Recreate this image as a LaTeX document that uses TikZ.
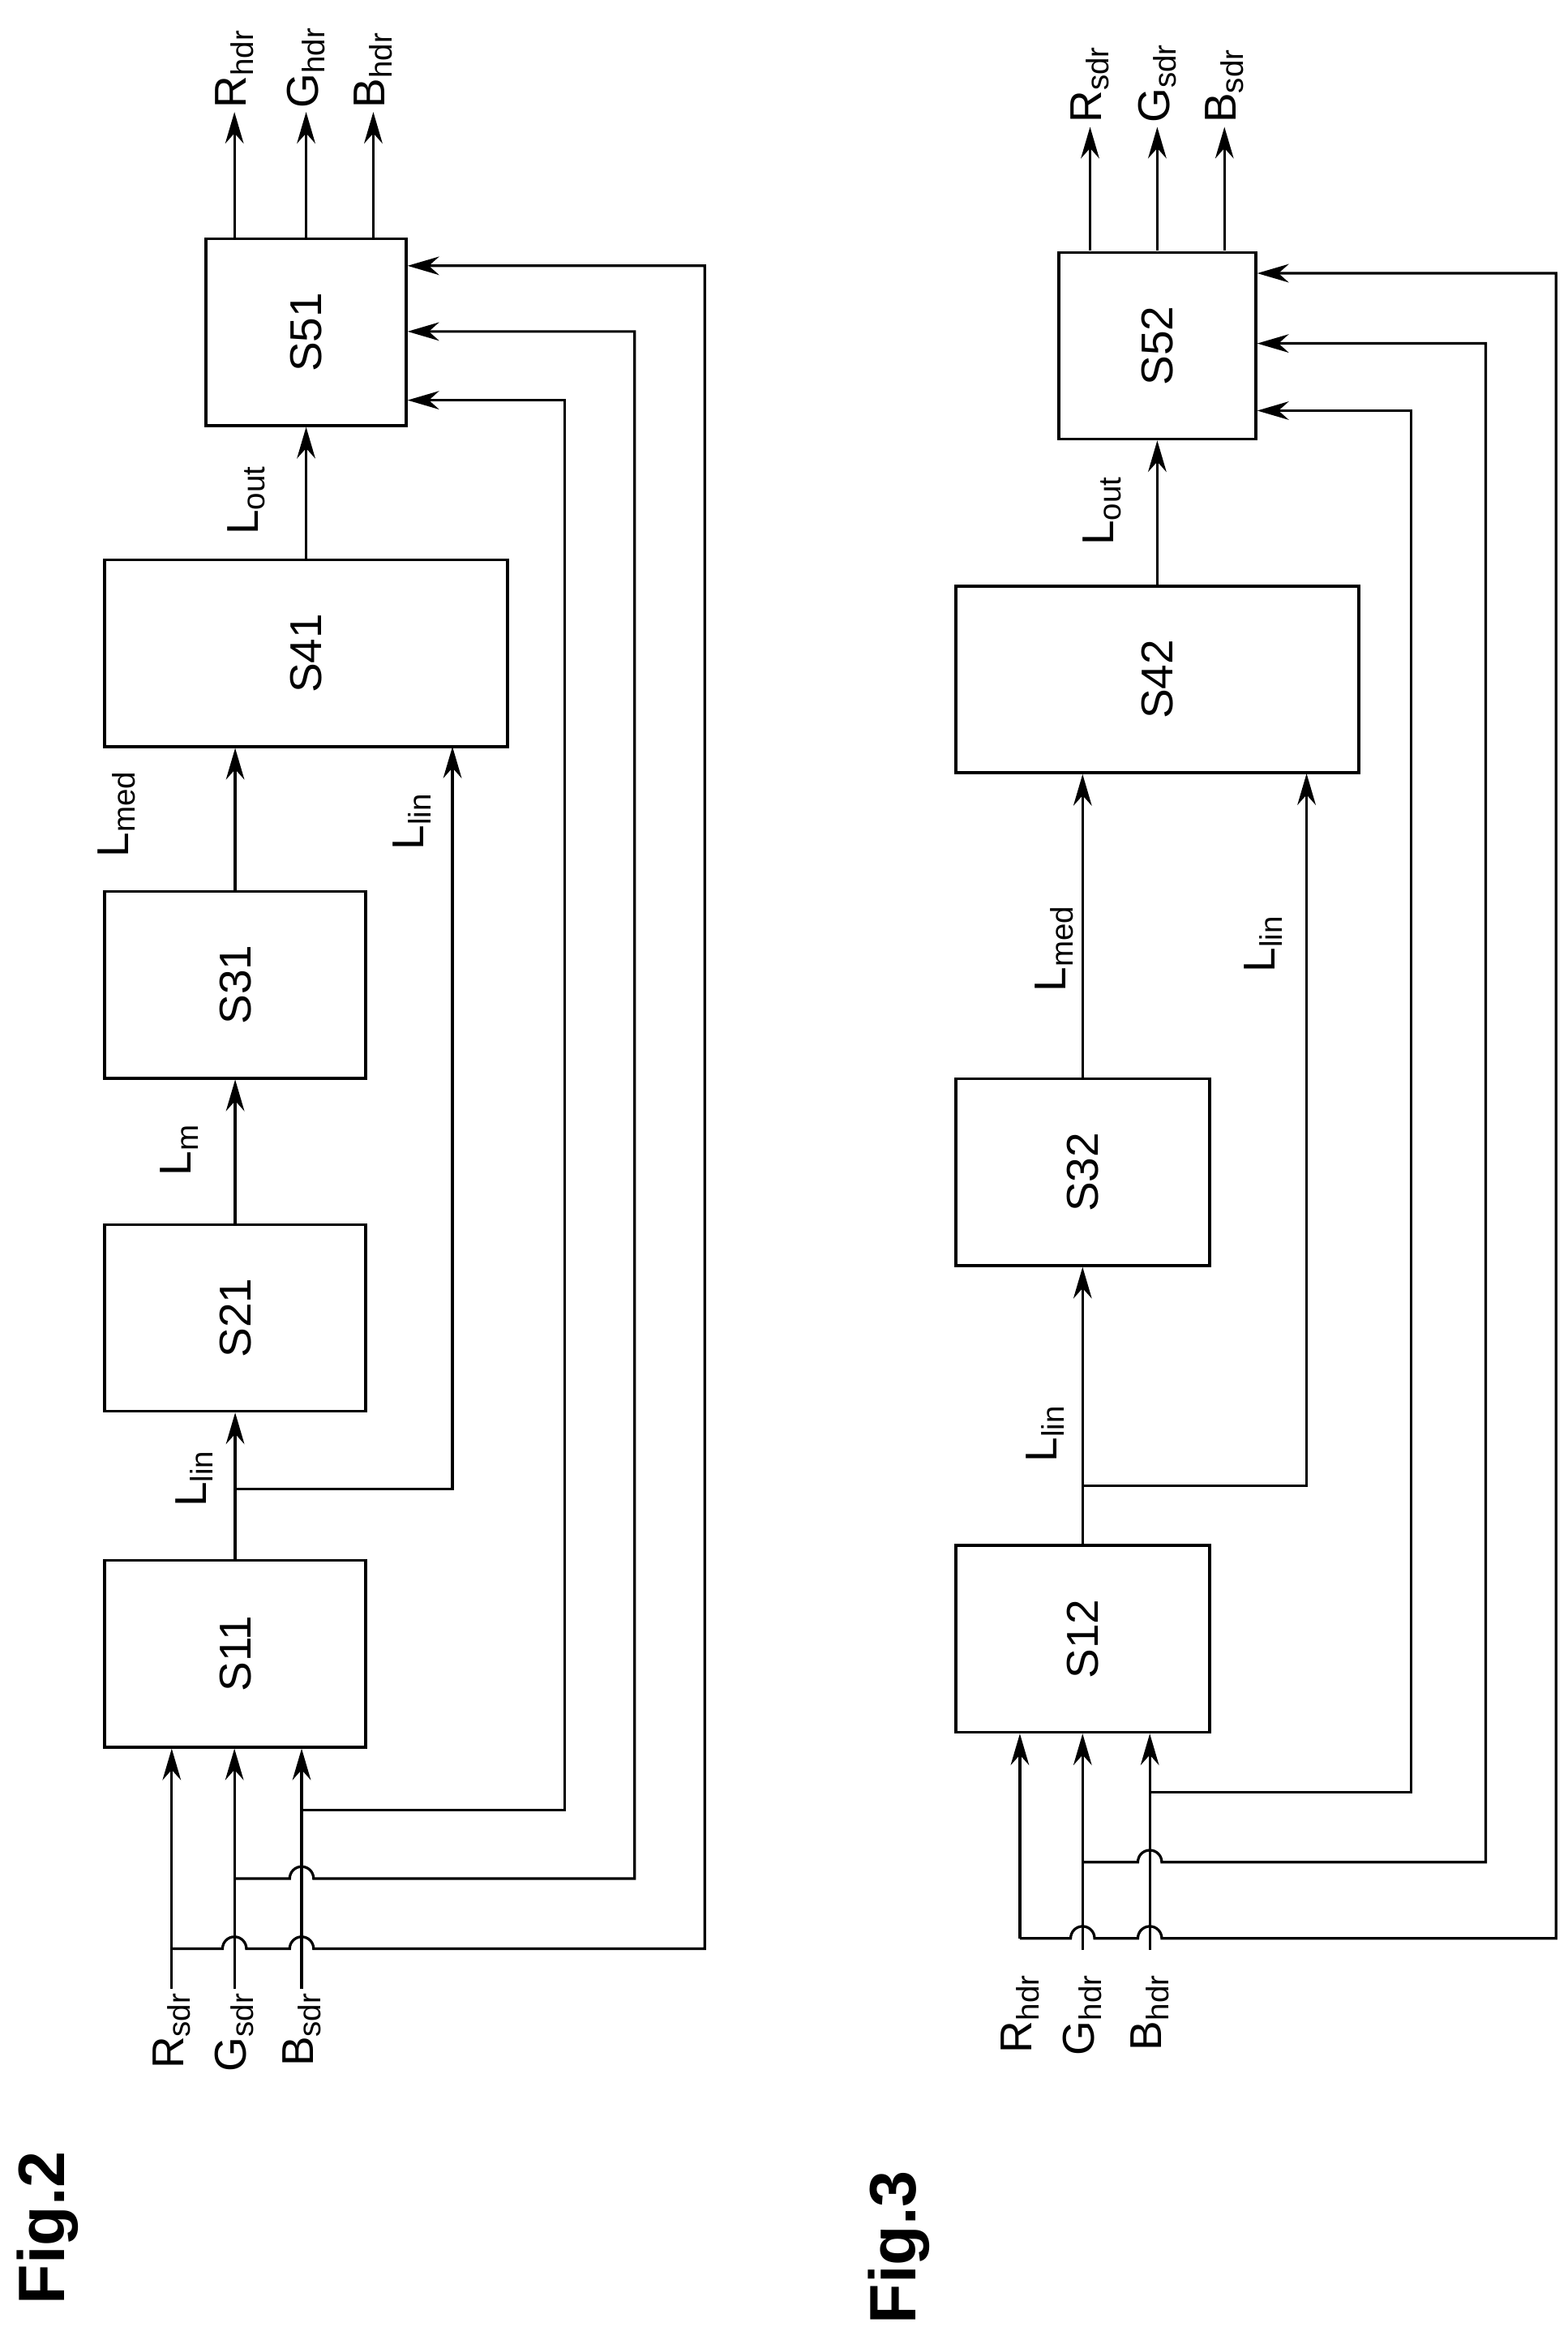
\documentclass[tikz,border=0pt]{standalone}
\usepackage{fontspec}
\setmainfont{Liberation Sans}
\usetikzlibrary{arrows.meta}
\begin{document}
\begin{tikzpicture}[x=0.02cm,y=0.02cm,
  blk/.style={draw,line width=1.1pt,minimum height=2.5cm,inner sep=0pt},
  txt/.style={rotate=90,font=\fontsize{17}{17}\selectfont,inner sep=1pt},
  fig/.style={rotate=90,font=\fontsize{25}{25}\selectfont\bfseries},
  arr/.style={line width=1pt,-{Stealth[length=12pt,width=7pt]}},
  ln/.style={line width=1pt}]

  \useasboundingbox (0,0) rectangle (1050,-1561);

  %% Fig.2
  \node[fig] (f2) at (32,-1492) {Fig.2};
  \node[blk,minimum width=3.5cm] (s11) at (157.5,-1107.5) {};
  \node[blk,minimum width=3.5cm] (s21) at (157.5,-882.5) {};
  \node[blk,minimum width=3.5cm] (s31) at (157.5,-659.5) {};
  \node[blk,minimum width=5.4cm] (s41) at (205,-437.5) {};
  \node[blk,minimum width=2.68cm] (s51) at (205,-222.5) {};
  \foreach \n/\t in {s11/S11,s21/S21,s31/S31,s41/S41,s51/S51}
    \node[txt] at (\n) {\t};

  \draw[arr] (s11.north) -- (s21.south);
  \draw[arr] (s21.north) -- (s31.south);
  \draw[arr] (s31.north) -- (s31.north |- s41.south);
  \draw[arr] (s41.north) -- (s51.south);
  \coordinate (j2) at (157.5,-997);
  \draw[arr] (j2) -| (303,-500);
  \node[txt] at (130,-990) {L\textsubscript{lin}};
  \node[txt] at (120,-770) {L\textsubscript{m}};
  \node[txt] at (78,-545) {L\textsubscript{med}};
  \node[txt] at (276,-550) {L\textsubscript{lin}};
  \node[txt] at (165,-335) {L\textsubscript{out}};

  % outputs
  \foreach \x/\n in {157/R,205/G,250/B}{
    \draw[arr] (\x,-160) -- (\x,-75) node[txt,anchor=west] {\n\textsubscript{hdr}};
  }

  % inputs
  \node[txt,anchor=east] (rs) at (115,-1332) {R\textsubscript{sdr}};
  \node[txt,anchor=east] (gs) at (157,-1332) {G\textsubscript{sdr}};
  \node[txt,anchor=east] (bs) at (202,-1332) {B\textsubscript{sdr}};
  \draw[arr] (rs.east) -- (rs.east |- s11.south);
  \draw[arr] (gs.east) -- (gs.east |- s11.south);
  \draw[arr] (bs.east) -- (bs.east |- s11.south);

  % feedback
  \draw[arr] (202,-1212) -| (378,-268) -- (s51.east |- 0,-268);
  \draw[arr] (157,-1258) -- (194,-1258) arc(180:0:8) -| (425,-222) -- (s51.east |- 0,-222);
  \draw[arr] (115,-1305) -- (149,-1305) arc(180:0:8) -- (194,-1305) arc(180:0:8)
    -| (472,-178) -- (s51.east |- 0,-178);

  %% Fig.3
  \node[fig] (f3) at (602,-1505) {Fig.3};
  \node[blk,minimum width=3.4cm] (s12) at (725,-1097.5) {};
  \node[blk,minimum width=3.4cm] (s32) at (725,-785) {};
  \node[blk,minimum width=5.4cm] (s42) at (775,-455) {};
  \node[blk,minimum width=2.64cm] (s52) at (775,-231.5) {};
  \foreach \n/\t in {s12/S12,s32/S32,s42/S42,s52/S52}
    \node[txt] at (\n) {\t};

  \draw[arr] (s12.north) -- (s32.south);
  \draw[arr] (s32.north) -- (s32.north |- s42.south);
  \draw[arr] (s42.north) -- (s52.south);
  \coordinate (j3) at (725,-995);
  \draw[arr] (j3) -| (875,-518);
  \node[txt] at (700,-960) {L\textsubscript{lin}};
  \node[txt] at (706,-635) {L\textsubscript{med}};
  \node[txt] at (846,-632) {L\textsubscript{lin}};
  \node[txt] at (738,-342) {L\textsubscript{out}};

  % outputs
  \foreach \x/\n in {730/R,775/G,820/B}{
    \draw[arr] (\x,-168) -- (\x,-85) node[txt,anchor=west] {\n\textsubscript{sdr}};
  }

  % inputs
  \node[txt,anchor=east] (rh) at (683,-1320) {R\textsubscript{hdr}};
  \node[txt,anchor=east] (gh) at (725,-1320) {G\textsubscript{hdr}};
  \node[txt,anchor=east] (bh) at (770,-1320) {B\textsubscript{hdr}};
  \draw[arr] (683,-1298) -- (rh.east |- s12.south);
  \draw[arr] (725,-1306) -- (gh.east |- s12.south);
  \draw[arr] (770,-1306) -- (bh.east |- s12.south);

  % feedback
  \draw[arr] (770,-1200) -| (945,-275) -- (s52.east |- 0,-275);
  \draw[arr] (725,-1247) -- (762,-1247) arc(180:0:8) -| (995,-230) -- (s52.east |- 0,-230);
  \draw[arr] (683,-1298) -- (717,-1298) arc(180:0:8) -- (762,-1298) arc(180:0:8)
    -| (1042,-183) -- (s52.east |- 0,-183);
\end{tikzpicture}
\end{document}
